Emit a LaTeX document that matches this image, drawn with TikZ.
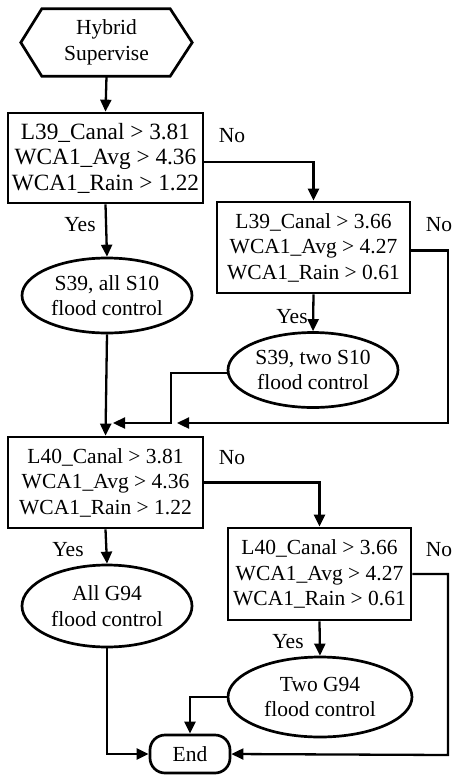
\documentclass[tikz,border=0pt]{standalone}
\usepackage{fontspec}
\setmainfont{Liberation Serif}
\usetikzlibrary{shapes.geometric,arrows.meta}
\begin{document}
\begin{tikzpicture}[x=1pt,y=-1pt,
  every node/.style={font=\fontsize{21.5}{25.5}\selectfont, align=center, inner sep=0pt},
  shapeline/.style={draw=black, line width=2.7pt},
  condbox/.style={shapeline, rectangle},
  oval/.style={shapeline, ellipse, minimum width=170pt, minimum height=75pt},
  arr/.style={draw=black, line width=2.3pt, -{Triangle[length=12pt,width=11pt]}},
  lbl/.style={font=\fontsize{21.5}{25.5}\selectfont}
]
\useasboundingbox (0,0) rectangle (452,777);
% start hexagon
\node[minimum width=171pt, minimum height=67pt] (start) at (106.5,42.5) {Hybrid\\Supervise};
\draw[shapeline, line join=miter] (start.west) -- ([xshift=21pt]start.north west) -- ([xshift=-22pt]start.north east)
  -- (start.east) -- ([xshift=-22pt]start.south east) -- ([xshift=21pt]start.south west) -- cycle;
% decision boxes
\node[condbox, minimum width=195pt, minimum height=90pt, font=\fontsize{23.3}{25.5}\selectfont] (b1) at (105.5,158) {L39\_Canal > 3.81\\WCA1\_Avg > 4.36\\WCA1\_Rain > 1.22};
\node[condbox, minimum width=193pt, minimum height=91pt] (b2) at (313.5,247.5) {L39\_Canal > 3.66\\WCA1\_Avg > 4.27\\WCA1\_Rain > 0.61};
\node[condbox, minimum width=195pt, minimum height=91pt] (b3) at (105.5,482.5) {L40\_Canal > 3.81\\WCA1\_Avg > 4.36\\WCA1\_Rain > 1.22};
\node[condbox, minimum width=183pt, minimum height=92pt] (b4) at (319.5,574) {L40\_Canal > 3.66\\WCA1\_Avg > 4.27\\WCA1\_Rain > 0.61};
% ovals
\node[oval] (e1) at (107,295.5) {S39, all S10\\flood control};
\node[oval] (e2) at (313,370) {S39, two S10\\flood control};
\node[oval, minimum height=82pt] (e3) at (107,606) {All G94\\flood control};
\node[oval, minimum width=184pt, minimum height=80pt] (e4) at (320,697) {Two G94\\flood control};
\node[shapeline, rectangle, rounded corners=15pt, minimum width=80pt, minimum height=38pt] (end) at (190,754) {End};
% labels
\node[lbl] at (232,136) {No};
\node[lbl] at (439,225) {No};
\node[lbl] at (232,458) {No};
\node[lbl] at (439,550) {No};
\node[lbl] at (80,225) {Yes};
\node[lbl] at (292,317) {Yes};
\node[lbl] at (68,550) {Yes};
\node[lbl] at (288,642) {Yes};
% merge points
\coordinate (j1) at (113,423);
\coordinate (j2) at (177,423);
% connectors
\draw[arr] (start.south) -- (b1.north);
\draw[arr] ([yshift=-4pt]b1.east) -| (b2.north);
\draw[arr] (b1.south) -- (e1.north);
\draw[arr] ([yshift=-3pt]b2.east) -| (448,423) -- (j2);
\draw[arr] (b2.south) -- (e2.north);
\draw[arr] ([yshift=-3pt]e2.west) -| (171,423) -- (j1);
\draw[arr] (e1.south) -- (b3.north);
\draw[arr] (b3.east) -| (b4.north);
\draw[arr] (b3.south) -- (e3.north);
\draw[arr] (b4.east) -| (448,755) -- (end.east);
\draw[arr] (b4.south) -- (e4.north);
\draw[arr] (e4.west) -| (end.north);
\draw[arr] (e3.south) |- (end.west);
\end{tikzpicture}
\end{document}
